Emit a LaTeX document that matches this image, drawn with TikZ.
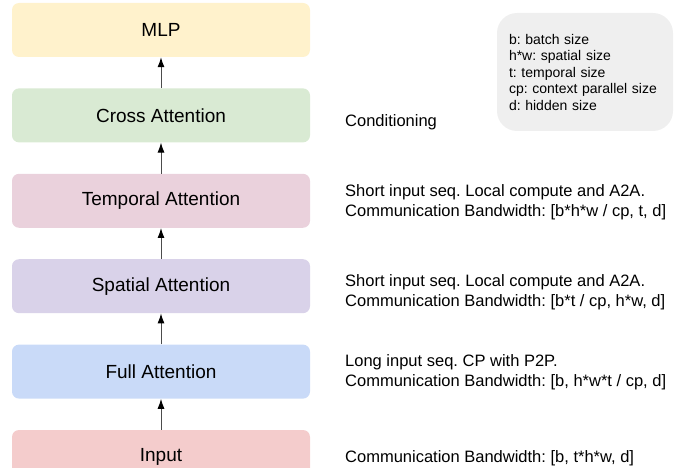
\documentclass[tikz,border=0pt]{standalone}
\usepackage{fontspec}
\setmainfont{Liberation Sans}
\usepackage{tikz}
\usetikzlibrary{positioning,arrows.meta}
\usepackage{xcolor}
\frenchspacing

\definecolor{mlpcol}{HTML}{FFF2CC}
\definecolor{crosscol}{HTML}{D9EAD3}
\definecolor{tempcol}{HTML}{EAD1DC}
\definecolor{spatcol}{HTML}{D9D2E9}
\definecolor{fullcol}{HTML}{C9DAF8}
\definecolor{inputcol}{HTML}{F4CCCC}
\definecolor{legcol}{HTML}{EFEFEF}

\tikzset{
  layer/.style={rounded corners=7pt, minimum width=298pt, minimum height=54pt, inner sep=0pt,
    font=\fontsize{19}{22}\selectfont},
  note/.style={anchor=west, align=left, inner sep=0pt, font=\fontsize{16.5}{20.5}\selectfont},
  flow/.style={-{Latex[black,length=10pt,width=7pt]}, draw=black!70, line width=1pt}
}

\begin{document}
\begin{tikzpicture}[x=1pt,y=-1pt,node distance=31pt]

\clip (0,0) rectangle (681,468);

%layers
\node[layer, fill=mlpcol] (mlp) at (161,30) {MLP};
\node[layer, fill=crosscol, below=of mlp] (cross) {Cross Attention};
\node[layer, fill=tempcol, below=of cross] (temporal) {Temporal Attention};
\node[layer, fill=spatcol, below=of temporal] (spatial) {Spatial Attention};
\node[layer, fill=fullcol, below=of spatial] (full) {Full Attention};
\node[layer, fill=inputcol, below=of full] (input) {Input};

\draw[flow] (input) -- (full);
\draw[flow] (full) -- (spatial);
\draw[flow] (spatial) -- (temporal);
\draw[flow] (temporal) -- (cross);
\draw[flow] (cross) -- (mlp);

%notes
\node[note] (ncross) at (345,122) {Conditioning};
\node[note] (ntemp) at (345,202) {Short input seq. Local compute and A2A.\\Communication Bandwidth: [b*h*w / cp, t, d]};
\node[note] (nspat) at (345,292) {Short input seq. Local compute and A2A.\\Communication Bandwidth: [b*t / cp, h*w, d]};
\node[note] (nfull) at (345,372) {Long input seq. CP with P2P.\\Communication Bandwidth: [b, h*w*t / cp, d]};
\node[note] (ninput) at (345,458) {Communication Bandwidth: [b, t*h*w, d]};

%legend
\node[fill=legcol, rounded corners=20pt, minimum width=176pt, minimum height=118pt,
  text width=152pt, inner xsep=12pt, align=left, font=\fontsize{14}{16.5}\selectfont]
  (legend) at (585,72) {b: batch size\\h*w: spatial size\\t: temporal size\\cp: context parallel size\\d: hidden size};

\end{tikzpicture}
\end{document}
